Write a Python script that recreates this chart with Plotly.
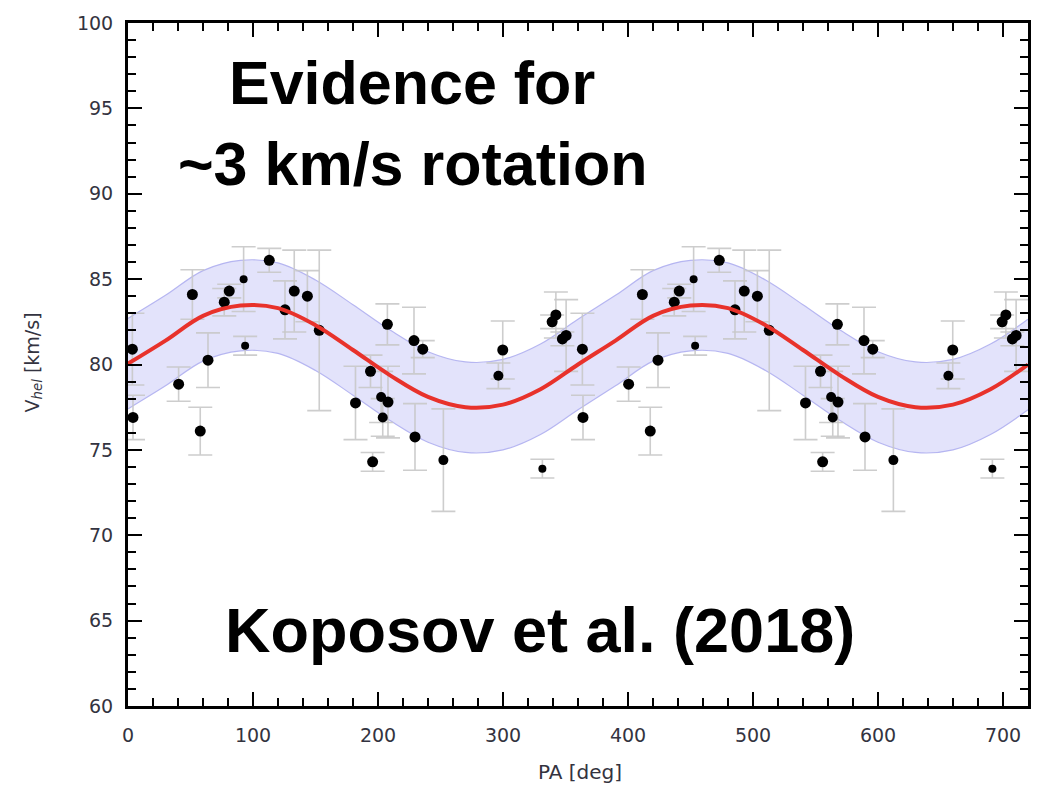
import plotly.graph_objects as go

# ---- data ----
pa = [3.5, 4.0, 40.5, 51.5, 57.8, 64.0, 77.0, 81.0, 92.5, 93.7, 113.0, 125.6, 133.0,
      143.5, 153.0, 182.0, 194.0, 195.7, 202.5, 203.8, 208.0, 207.5, 228.8, 229.6,
      235.8, 252.3, 296.3, 299.8, 331.5, 339.3, 342.3, 347.5, 350.5]
v_hel = [80.9, 76.9, 78.85, 84.1, 76.1, 80.25, 83.65, 84.3, 85.0, 81.1, 86.1, 83.2, 84.3,
         84.0, 82.0, 77.75, 79.6, 74.3, 78.1, 76.9, 77.8, 82.35, 81.4, 75.76,
         80.9, 74.4, 79.34, 80.85, 73.9, 82.5, 82.9, 81.5, 81.7]
v_err = [2.1, 1.3, 1.0, 1.45, 1.4, 1.6, 0.8, 0.4, 1.9, 0.55, 0.7, 1.7, 2.4,
         1.5, 4.7, 2.15, 0.95, 0.55, 1.5, 1.1, 2.1, 1.2, 1.95, 1.95,
         0.5, 3.0, 0.75, 1.7, 0.55, 0.4, 1.35, 0.4, 2.1]
msize = [11, 11, 11, 11, 11, 11, 11, 11, 8, 8, 11, 11, 11,
         11, 11, 11, 11, 11, 10, 10, 11, 11, 11, 11,
         11, 10, 10, 11, 8, 11, 11, 11, 11]

model_pa = [0, 30, 60, 90, 120, 150, 180, 210, 240, 270, 300, 330, 360]
model_v = [80.05, 81.4, 82.85, 83.45, 83.3, 82.3, 80.85, 79.35, 78.1, 77.5, 77.65, 78.55, 80.0]
band_half = 2.65

x_ticks = [0, 100, 200, 300, 400, 500, 600, 700]
y_ticks = [60, 65, 70, 75, 80, 85, 90, 95, 100]

# two periods are shown (PA and PA+360)
pa_all = pa + [p + 360 for p in pa]
v_all = v_hel + v_hel
e_all = v_err + v_err
s_all = msize + msize

mx = model_pa + [p + 360 for p in model_pa[1:]]
mv = model_v + model_v[1:]
up = [m + band_half for m in mv]
lo = [m - band_half for m in mv]

fig = go.Figure()
fig.add_trace(go.Scatter(x=mx, y=up, mode="lines", line=dict(color="rgba(175,175,240,0.9)", width=1.2, shape="spline"),
                         hoverinfo="skip", showlegend=False))
fig.add_trace(go.Scatter(x=mx, y=lo, mode="lines", line=dict(color="rgba(175,175,240,0.9)", width=1.2, shape="spline"),
                         fill="tonexty", fillcolor="rgba(215,215,250,0.7)", hoverinfo="skip", showlegend=False))
fig.add_trace(go.Scatter(x=pa_all, y=v_all, mode="markers",
                         marker=dict(color="black", size=s_all, symbol="circle", opacity=1,
                                     line=dict(width=0)),
                         error_y=dict(type="data", array=e_all, color="rgba(200,200,200,0.9)", thickness=1.6, width=12),
                         showlegend=False))
fig.add_trace(go.Scatter(x=mx, y=mv, mode="lines", line=dict(color="#E8322B", width=4, shape="spline"),
                         showlegend=False))

tickfont = dict(family="DejaVu Sans", size=19, color="#333340")
axis_common = dict(showline=True, linecolor="black", linewidth=3, mirror="ticks",
                   ticks="inside", ticklen=14, tickwidth=2, tickcolor="black",
                   showgrid=False, zeroline=False, tickfont=tickfont)

fig.update_xaxes(range=[0, 720], tickvals=x_ticks, ticklabelstandoff=10,
                 minor=dict(dtick=20, ticks="inside", ticklen=8, tickwidth=2, tickcolor="black"),
                 **axis_common)
fig.update_yaxes(range=[60, 100], tickvals=y_ticks, ticklabelstandoff=8,
                 minor=dict(dtick=1, ticks="inside", ticklen=8, tickwidth=2, tickcolor="black"),
                 **axis_common)

big = dict(family="Liberation Sans, Arial, sans-serif", size=61, color="black")
fig.add_annotation(text="<b>Evidence for</b>", x=227, y=96.5, xref="x", yref="y",
                   showarrow=False, font=big, xanchor="center", yanchor="middle")
fig.add_annotation(text="<b>~3 km/s rotation</b>", x=228, y=91.75, xref="x", yref="y",
                   showarrow=False, font=big, xanchor="center", yanchor="middle")
fig.add_annotation(text="<b>Koposov et al. (2018)</b>", x=329.6, y=64.45, xref="x", yref="y",
                   showarrow=False, font=dict(family="Liberation Sans, Arial, sans-serif", size=63, color="black"),
                   xanchor="center", yanchor="middle")

fig.add_annotation(text="V<sub><i>hel</i></sub> [km/s]", x=-0.1056, y=0.503, xref="paper", yref="paper",
                   textangle=-90, showarrow=False, xanchor="center", yanchor="middle",
                   font=dict(family="DejaVu Sans", size=19, color="#333340"))
fig.add_annotation(text="PA [deg]", x=0.502, y=-0.096, xref="paper", yref="paper",
                   showarrow=False, xanchor="center", yanchor="middle",
                   font=dict(family="DejaVu Sans", size=20, color="#333340"))

fig.update_layout(width=1050, height=796, margin=dict(l=128, r=22, t=18, b=90),
                  plot_bgcolor="white", paper_bgcolor="white")

fig.write_html("out.html")
